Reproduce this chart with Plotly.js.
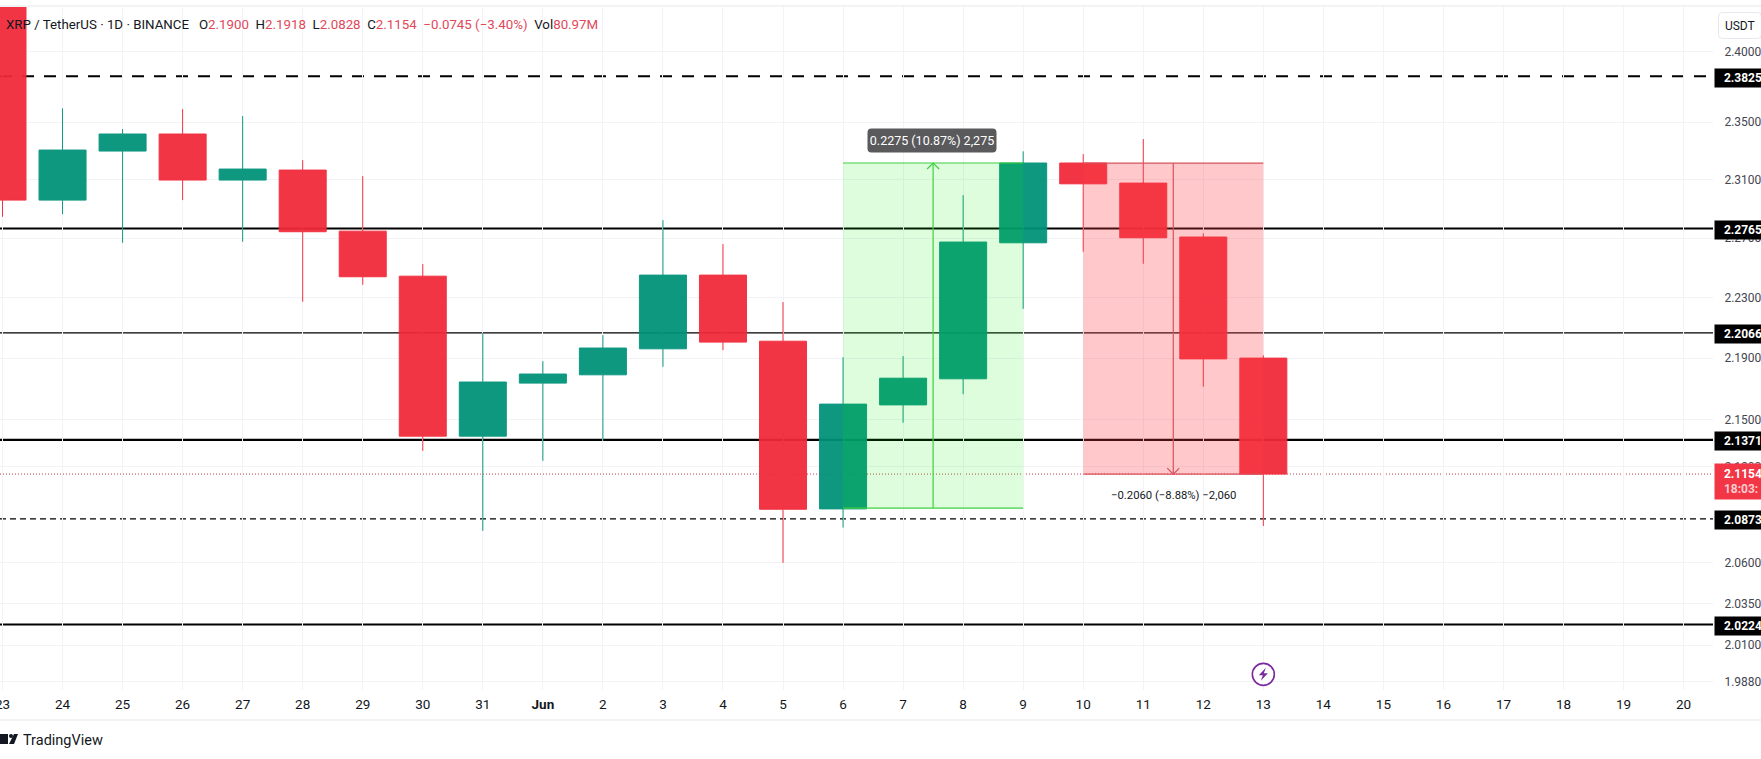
<!DOCTYPE html>
<html><head><meta charset="utf-8">
<script src="https://cdn.plot.ly/plotly-3.0.1.min.js"></script>
<style>html,body{margin:0;padding:0;background:#fff;overflow:hidden}#c{width:1761px;height:759px}</style>
</head><body><div id="c"></div>
<script>
const days=['2025-05-23','2025-05-24','2025-05-25','2025-05-26','2025-05-27','2025-05-28','2025-05-29','2025-05-30','2025-05-31','2025-06-01','2025-06-02','2025-06-03','2025-06-04','2025-06-05','2025-06-06','2025-06-07','2025-06-08','2025-06-09','2025-06-10','2025-06-11','2025-06-12','2025-06-13'];
const opens =[2.45,2.2959,2.3298,2.3417,2.3097,2.3166,2.2747,2.2443,2.1395,2.1737,2.1791,2.1961,2.2450,2.2011,2.0935,2.1596,2.1765,2.2668,2.3215,2.3076,2.2707,2.1900];
const highs =[2.46,2.3597,2.3452,2.3592,2.3543,2.3235,2.3124,2.2524,2.2066,2.1880,2.2051,2.2822,2.2659,2.2270,2.1906,2.1913,2.2993,2.3296,2.3277,2.3382,2.2732,2.1918];
const lows  =[2.2845,2.2863,2.2668,2.2959,2.2675,2.2272,2.2385,2.1301,2.0798,2.1238,2.1365,2.1843,2.1952,2.0600,2.0819,2.1481,2.1665,2.2225,2.2607,2.2526,2.1713,2.0828];
const closes=[2.2959,2.3305,2.3417,2.3097,2.3173,2.2743,2.2439,2.1395,2.1744,2.1796,2.1966,2.2450,2.2005,2.0933,2.1601,2.1769,2.2673,2.3215,2.3071,2.2702,2.1895,2.1154];

const xTickDates=['2025-05-23','2025-05-24','2025-05-25','2025-05-26','2025-05-27','2025-05-28','2025-05-29','2025-05-30','2025-05-31','2025-06-01','2025-06-02','2025-06-03','2025-06-04','2025-06-05','2025-06-06','2025-06-07','2025-06-08','2025-06-09','2025-06-10','2025-06-11','2025-06-12','2025-06-13','2025-06-14','2025-06-15','2025-06-16','2025-06-17','2025-06-18','2025-06-19','2025-06-20'];
const xTickText=['23','24','25','26','27','28','29','30','31','<b>Jun</b>','2','3','4','5','6','7','8','9','10','11','12','13','14','15','16','17','18','19','20'];
const yTicks=[2.40,2.35,2.31,2.27,2.23,2.19,2.15,2.12,2.06,2.035,2.01,1.988];
const yTickText=['2.4000','2.3500','2.3100','2.2700','2.2300','2.1900','2.1500','2.1200','2.0600','2.0350','2.0100','1.9880'];

const levels=[2.3825,2.2765,2.2066,2.1371,2.0873,2.0224];
const levelText=['2.3825','2.2765','2.2066','2.1371','2.0873','2.0224'];
const levelWidth=[2,2.2,1.3,2.2,1.2,2.2];
const levelDash=['12px,10px','solid','solid','solid','6px,4px','solid'];
const lastPrice=2.1154;
const longRange={x0:'2025-06-06',x1:'2025-06-09',mid:'2025-06-07 12:00',lo:2.0940,hi:2.3215};
const shortRange={x0:'2025-06-10',x1:'2025-06-13',mid:'2025-06-11 12:00',lo:2.1154,hi:2.3214};
const longLabel='0.2275 (10.87%) 2,275';
const shortLabel='−0.2060 (−8.88%) −2,060';
const boltAt={x:'2025-06-13',y:1.9925};
const xRange=['2025-05-22 23:00','2025-06-20 11:45'];
const yRange=[1.9832,2.4323];

const RED='#F23645',TXT='#131722',FONT='Roboto, sans-serif',LONGC='#3fd03f',SHORTC='#d8505b',PURPLE='#7b2a9e';
const log=Math.log10;
const PW=1713,PT=7,PH=683;
const px=x=>x/PW, py=y=>(PT+PH-y)/PH;
const t=s=>Date.parse(s.replace(' ','T')+(s.length>10?':00Z':'T00:00:00Z'));
const xPix=d=>PW*(t(d)-t(xRange[0]))/(t(xRange[1])-t(xRange[0]));
const yPix=v=>PT+PH*(log(yRange[1])-log(v))/(log(yRange[1])-log(yRange[0]));
const red=s=>`<span style="color:#e0485a">${s}</span>`;
const sp='&nbsp;&nbsp;';
const header='XRP / TetherUS · 1D · BINANCE'+sp+'&nbsp;O'+red('2.1900')+sp+'H'+red('2.1918')+sp+'L'+red('2.0828')+sp+'C'+red('2.1154')+sp+red('−0.0745 (−3.40%)')+sp+'Vol'+red('80.97M');

const candles={type:'candlestick',x:days,open:opens,high:highs,low:lows,close:closes,hoverinfo:'skip',opacity:0.94,
  increasing:{line:{color:'rgb(0,146,121)',width:1},fillcolor:'rgb(0,146,121)'},
  decreasing:{line:{color:'rgb(241,41,57)',width:1},fillcolor:'rgb(241,41,57)'},whiskerwidth:0};

const shapes=[];
levels.forEach((v,i)=>shapes.push({type:'line',layer:'below',xref:'paper',yref:'y',x0:0,x1:1,y0:v,y1:v,line:{color:'#000',width:levelWidth[i],dash:levelDash[i]}}));
shapes.push({type:'line',layer:'below',xref:'paper',yref:'y',x0:0,x1:1,y0:lastPrice,y1:lastPrice,line:{color:'#c8404f',width:1,dash:'1px,2px'}});
[[longRange,'rgba(0,240,0,0.135)',LONGC,'hi',1],[shortRange,'rgba(255,60,70,0.28)',SHORTC,'lo',-1]].forEach(([r,f,l,tipKey,dir])=>{
  shapes.push({type:'rect',layer:'above',xref:'x',yref:'y',x0:r.x0,x1:r.x1,y0:r.lo,y1:r.hi,fillcolor:f,line:{width:0}});
  [r.lo,r.hi].forEach(v=>shapes.push({type:'line',layer:'above',xref:'x',yref:'y',x0:r.x0,x1:r.x1,y0:v,y1:v,line:{color:l,width:1.2}}));
  shapes.push({type:'line',layer:'above',xref:'x',yref:'y',x0:r.mid,x1:r.mid,y0:r.lo,y1:r.hi,line:{color:l,width:1.2}});
  const tx=xPix(r.mid),ty=yPix(r[tipKey]);
  shapes.push({type:'path',layer:'above',xref:'paper',yref:'paper',path:`M${px(tx-6)},${py(ty+dir*6)} L${px(tx)},${py(ty)} L${px(tx+6)},${py(ty+dir*6)}`,line:{color:l,width:1.2}});
});
[6,720].forEach(y=>shapes.push({type:'line',xref:'paper',yref:'paper',x0:0,x1:1761/PW,y0:py(y),y1:py(y),line:{color:'#f2f3f5',width:2}}));
// lightning badge
const bx=xPix(boltAt.x),by=yPix(boltAt.y);
shapes.push({type:'circle',layer:'above',xref:'paper',yref:'paper',x0:px(bx-11),x1:px(bx+11),y0:py(by+11),y1:py(by-11),line:{color:PURPLE,width:1.6},fillcolor:'#fff'});
const bolt=[[2.5,-6.5],[-4.5,1],[-0.5,1],[-2.5,6.5],[4.5,-1],[0.5,-1]];
shapes.push({type:'path',layer:'above',xref:'paper',yref:'paper',path:'M'+bolt.map(([a,b])=>`${px(bx+a)},${py(by+b)}`).join(' L')+' Z',fillcolor:PURPLE,line:{width:0}});
// TradingView mark
shapes.push({type:'rect',xref:'paper',yref:'paper',x0:px(0),x1:px(8),y0:py(744),y1:py(734),fillcolor:TXT,line:{width:0}});
shapes.push({type:'circle',xref:'paper',yref:'paper',x0:px(9),x1:px(13),y0:py(738),y1:py(734),fillcolor:TXT,line:{width:0}});
shapes.push({type:'path',xref:'paper',yref:'paper',path:`M${px(14)},${py(734)} L${px(18)},${py(734)} L${px(14)},${py(744)} L${px(9)},${py(744)} Z`,fillcolor:TXT,line:{width:0}});

const annotations=[];
annotations.push({xref:'paper',yref:'paper',x:px(4),y:py(24.7),xanchor:'left',yanchor:'middle',showarrow:false,text:header,font:{family:FONT,size:13.3,color:TXT}});
annotations.push({xref:'paper',yref:'paper',x:px(21),y:py(740),xanchor:'left',yanchor:'middle',showarrow:false,text:'TradingView',font:{family:FONT,size:14.5,color:TXT}});
annotations.push({xref:'x',yref:'paper',x:xTickDates[0],y:py(704),xanchor:'center',yanchor:'middle',showarrow:false,text:xTickText[0],font:{family:FONT,size:13.5,color:TXT}});
annotations.push({xref:'paper',yref:'paper',x:px(1718),y:py(25.5),xanchor:'left',yanchor:'middle',showarrow:false,text:'&nbsp;&nbsp;USDT',align:'left',width:42,height:25,font:{family:FONT,size:12,color:TXT},bgcolor:'#fff',bordercolor:'#e6e8ee',borderwidth:1,borderpad:0});
levels.forEach((v,i)=>annotations.push({xref:'paper',yref:'y',x:1,y:log(v),xanchor:'left',yanchor:'middle',xshift:1,yshift:-1.5,showarrow:false,width:47,height:18,align:'left',borderpad:0,bgcolor:'#000',text:'&nbsp;&nbsp;&nbsp;'+levelText[i],font:{family:FONT,size:12,color:'#fff',weight:700}}));
annotations.push({xref:'paper',yref:'y',x:1,y:log(lastPrice),xanchor:'left',yanchor:'middle',xshift:1,yshift:-7.7,showarrow:false,width:47,height:35,align:'left',borderpad:0,bgcolor:RED,text:'&nbsp;&nbsp;&nbsp;2.1154<br>&nbsp;&nbsp;&nbsp;<span style="color:rgba(255,255,255,.75)">18:03:</span>',font:{family:FONT,size:12,color:'#fff',weight:700}});
annotations.push({xref:'paper',yref:'paper',x:px(932),y:py(140.5),xanchor:'center',yanchor:'middle',showarrow:false,width:128,height:23,borderpad:0,bgcolor:'#5a5a5c',text:longLabel,font:{family:FONT,size:12.5,color:'#fff'}});
annotations.push({xref:'paper',yref:'paper',x:px(1173),y:py(496),xanchor:'center',yanchor:'middle',showarrow:false,text:shortLabel,font:{family:FONT,size:11.3,color:TXT}});

const layout={width:1761,height:759,margin:{l:0,r:48,t:7,b:69,pad:0},paper_bgcolor:'#fff',plot_bgcolor:'#fff',showlegend:false,hovermode:false,
  xaxis:{type:'date',range:xRange,tickmode:'array',tickvals:xTickDates,ticktext:xTickText,ticks:'outside',ticklen:2,tickcolor:'rgba(0,0,0,0)',showgrid:true,gridcolor:'#f2f3f7',gridwidth:1,zeroline:false,showline:false,tickangle:0,tickfont:{family:FONT,size:13.5,color:TXT},rangeslider:{visible:false}},
  yaxis:{type:'log',range:[log(yRange[0]),log(yRange[1])],side:'right',tickmode:'array',tickvals:yTicks,ticktext:yTickText,ticks:'outside',ticklen:8,tickcolor:'rgba(0,0,0,0)',showgrid:true,gridcolor:'#f2f3f7',gridwidth:1,zeroline:false,showline:false,tickfont:{family:FONT,size:12,color:'#434651'}},
  boxgap:0.217,boxgroupgap:0,shapes,annotations};
Plotly.newPlot('c',[candles],layout,{displayModeBar:false,staticPlot:true}).then(()=>{
  document.querySelectorAll('.annotation').forEach(a=>{
    const tx=a.textContent;
    if(tx===longLabel||tx.includes('USDT')){const r=a.querySelector('rect.bg');if(r){r.setAttribute('rx',4);r.setAttribute('ry',4);}}
  });
});
</script></body></html>
